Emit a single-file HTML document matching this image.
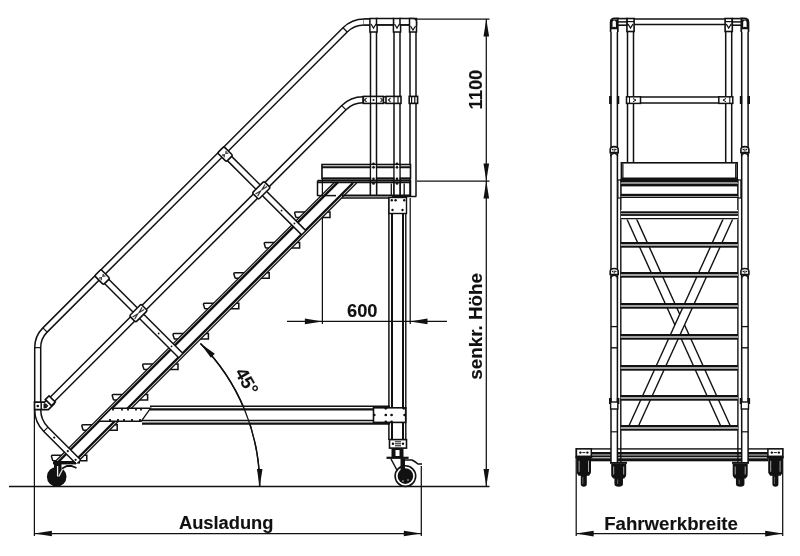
<!DOCTYPE html>
<html><head><meta charset="utf-8"><style>
html,body{margin:0;padding:0;background:#fff;}
svg{display:block;filter:grayscale(1);}
text{font-family:"Liberation Sans",sans-serif;}
</style></head><body>
<svg width="800" height="556" viewBox="0 0 800 556">
<rect width="800" height="556" fill="#fff"/>
<line x1="9.00" y1="486.50" x2="489.50" y2="486.50" stroke="#111" stroke-width="1.4" />
<line x1="34.40" y1="410.00" x2="34.40" y2="536.00" stroke="#111" stroke-width="1.25" />
<line x1="421.30" y1="466.00" x2="421.30" y2="536.00" stroke="#111" stroke-width="1.25" />
<line x1="34.40" y1="533.50" x2="421.30" y2="533.50" stroke="#111" stroke-width="1.25" />
<path d="M34.40,533.50 L51.90,530.70 L51.90,536.30 Z" fill="#111"/>
<path d="M421.30,533.50 L403.80,536.30 L403.80,530.70 Z" fill="#111"/>
<text transform="translate(179.00,529.30) rotate(0) scale(1.0,1)" font-size="18.3" text-anchor="start" font-family="Liberation Sans, sans-serif" font-weight="bold" fill="#111" stroke="#111" stroke-width="0.12">Ausladung</text>
<line x1="486.30" y1="19.00" x2="486.30" y2="486.50" stroke="#111" stroke-width="1.25" />
<line x1="417.00" y1="19.00" x2="489.50" y2="19.00" stroke="#111" stroke-width="1.25" />
<line x1="417.00" y1="181.00" x2="489.50" y2="181.00" stroke="#111" stroke-width="1.25" />
<path d="M486.30,19.00 L489.10,36.50 L483.50,36.50 Z" fill="#111"/>
<path d="M486.30,181.00 L483.50,163.50 L489.10,163.50 Z" fill="#111"/>
<path d="M486.30,181.00 L489.10,198.50 L483.50,198.50 Z" fill="#111"/>
<path d="M486.30,486.50 L483.50,469.00 L489.10,469.00 Z" fill="#111"/>
<text transform="translate(481.50,109.40) rotate(-90) scale(1.0,1)" font-size="18.3" text-anchor="start" font-family="Liberation Sans, sans-serif" font-weight="bold" fill="#111" stroke="#111" stroke-width="0.12">1100</text>
<text transform="translate(481.50,379.80) rotate(-90) scale(1.03,1)" font-size="18.3" text-anchor="start" font-family="Liberation Sans, sans-serif" font-weight="bold" fill="#111" stroke="#111" stroke-width="0.12">senkr. Höhe</text>
<line x1="287.00" y1="321.40" x2="447.00" y2="321.40" stroke="#111" stroke-width="1.25" />
<line x1="322.40" y1="164.00" x2="322.40" y2="324.00" stroke="#111" stroke-width="1.25" />
<line x1="410.20" y1="198.00" x2="410.20" y2="324.00" stroke="#111" stroke-width="1.25" />
<path d="M322.40,321.40 L304.90,324.20 L304.90,318.60 Z" fill="#111"/>
<path d="M410.00,321.40 L427.50,318.60 L427.50,324.20 Z" fill="#111"/>
<text transform="translate(347.00,317.20) rotate(0) scale(1.0,1)" font-size="18.3" text-anchor="start" font-family="Liberation Sans, sans-serif" font-weight="bold" fill="#111" stroke="#111" stroke-width="0.12">600</text>
<path d="M200.48,343.42 A202.2,202.2 0 0 1 259.70,486.40" stroke="#111" stroke-width="1.4" fill="none" />
<path d="M259.70,486.40 L256.90,468.90 L262.50,468.90 Z" fill="#111"/>
<path d="M200.48,343.42 L214.83,353.82 L210.87,357.78 Z" fill="#111"/>
<text transform="translate(234.50,372.50) rotate(60) scale(1.0,1)" font-size="18.3" text-anchor="start" font-family="Liberation Sans, sans-serif" font-weight="bold" fill="#111" stroke="#111" stroke-width="0.12">45°</text>
<path d="M305.50,212.00 L295.60,212.00 Q294.60,212.00 294.60,213.00 L295.80,217.00 Q296.00,217.50 296.80,217.50 L300.00,217.50 Z" fill="#fff" stroke="#111" stroke-width="1.5"/>
<path d="M275.10,242.40 L265.20,242.40 Q264.20,242.40 264.20,243.40 L265.40,247.40 Q265.60,247.90 266.40,247.90 L269.60,247.90 Z" fill="#fff" stroke="#111" stroke-width="1.5"/>
<path d="M244.70,272.80 L234.80,272.80 Q233.80,272.80 233.80,273.80 L235.00,277.80 Q235.20,278.30 236.00,278.30 L239.20,278.30 Z" fill="#fff" stroke="#111" stroke-width="1.5"/>
<path d="M214.30,303.20 L204.40,303.20 Q203.40,303.20 203.40,304.20 L204.60,308.20 Q204.80,308.70 205.60,308.70 L208.80,308.70 Z" fill="#fff" stroke="#111" stroke-width="1.5"/>
<path d="M183.90,333.60 L174.00,333.60 Q173.00,333.60 173.00,334.60 L174.20,338.60 Q174.40,339.10 175.20,339.10 L178.40,339.10 Z" fill="#fff" stroke="#111" stroke-width="1.5"/>
<path d="M153.50,364.00 L143.60,364.00 Q142.60,364.00 142.60,365.00 L143.80,369.00 Q144.00,369.50 144.80,369.50 L148.00,369.50 Z" fill="#fff" stroke="#111" stroke-width="1.5"/>
<path d="M123.10,394.40 L113.20,394.40 Q112.20,394.40 112.20,395.40 L113.40,399.40 Q113.60,399.90 114.40,399.90 L117.60,399.90 Z" fill="#fff" stroke="#111" stroke-width="1.5"/>
<path d="M92.70,424.80 L82.80,424.80 Q81.80,424.80 81.80,425.80 L83.00,429.80 Q83.20,430.30 84.00,430.30 L87.20,430.30 Z" fill="#fff" stroke="#111" stroke-width="1.5"/>
<path d="M62.30,455.20 L52.40,455.20 Q51.40,455.20 51.40,456.20 L52.60,460.20 Q52.80,460.70 53.60,460.70 L56.80,460.70 Z" fill="#fff" stroke="#111" stroke-width="1.5"/>
<path d="M327.00,212.00 L330.00,212.00 L330.00,217.50 L321.50,217.50 Z" stroke="#111" stroke-width="1.5" fill="#fff" />
<path d="M296.60,242.40 L299.60,242.40 L299.60,247.90 L291.10,247.90 Z" stroke="#111" stroke-width="1.5" fill="#fff" />
<path d="M266.20,272.80 L269.20,272.80 L269.20,278.30 L260.70,278.30 Z" stroke="#111" stroke-width="1.5" fill="#fff" />
<path d="M235.80,303.20 L238.80,303.20 L238.80,308.70 L230.30,308.70 Z" stroke="#111" stroke-width="1.5" fill="#fff" />
<path d="M205.40,333.60 L208.40,333.60 L208.40,339.10 L199.90,339.10 Z" stroke="#111" stroke-width="1.5" fill="#fff" />
<path d="M175.00,364.00 L178.00,364.00 L178.00,369.50 L169.50,369.50 Z" stroke="#111" stroke-width="1.5" fill="#fff" />
<path d="M144.60,394.40 L147.60,394.40 L147.60,399.90 L139.10,399.90 Z" stroke="#111" stroke-width="1.5" fill="#fff" />
<path d="M114.20,424.80 L117.20,424.80 L117.20,430.30 L108.70,430.30 Z" stroke="#111" stroke-width="1.5" fill="#fff" />
<path d="M83.80,455.20 L86.80,455.20 L86.80,460.70 L78.30,460.70 Z" stroke="#111" stroke-width="1.5" fill="#fff" />
<path d="M54.80,462.00 L334.80,182.00 L356.60,183.00 L77.60,462.00 Z" stroke="none" stroke-width="0" fill="#fff" />
<line x1="54.80" y1="462.00" x2="334.80" y2="182.00" stroke="#111" stroke-width="1.3" />
<line x1="58.20" y1="462.00" x2="338.00" y2="182.20" stroke="#111" stroke-width="2.4" />
<line x1="74.00" y1="462.00" x2="353.00" y2="183.00" stroke="#111" stroke-width="2.4" />
<line x1="77.60" y1="462.00" x2="356.60" y2="183.00" stroke="#111" stroke-width="1.3" />
<line x1="53.50" y1="462.30" x2="80.00" y2="462.30" stroke="#111" stroke-width="2.6" />
<path d="M416,22.0 L364.18,22.00 A27,27 0 0 0 345.09,29.91 L45.02,329.98 A25,25 0 0 0 37.70,347.66 L37.7,404" stroke="#111" stroke-width="7.50" fill="none" stroke-linecap="butt"/>
<path d="M416,22.0 L364.18,22.00 A27,27 0 0 0 345.09,29.91 L45.02,329.98 A25,25 0 0 0 37.70,347.66 L37.7,404" stroke="#fff" stroke-width="4.50" fill="none" stroke-linecap="butt"/>
<path d="M401,99.8 L362.98,99.80 A27,27 0 0 0 343.89,107.71 L50.5,401.10" stroke="#111" stroke-width="7.50" fill="none" stroke-linecap="butt"/>
<path d="M401,99.8 L362.98,99.80 A27,27 0 0 0 343.89,107.71 L50.5,401.10" stroke="#fff" stroke-width="4.50" fill="none" stroke-linecap="butt"/>
<path d="M37.7,409.5 A28,28 0 0 0 45.90,429.30 L78.20,461.60" stroke="#111" stroke-width="7.50" fill="none" stroke-linecap="butt"/>
<path d="M37.7,409.5 A28,28 0 0 0 45.90,429.30 L78.20,461.60" stroke="#fff" stroke-width="4.50" fill="none" stroke-linecap="butt"/>
<line x1="364.18" y1="25.00" x2="364.18" y2="19.00" stroke="#111" stroke-width="1.2" />
<line x1="347.21" y1="32.03" x2="342.97" y2="27.79" stroke="#111" stroke-width="1.2" />
<line x1="47.14" y1="332.10" x2="42.90" y2="327.86" stroke="#111" stroke-width="1.2" />
<line x1="34.70" y1="347.66" x2="40.70" y2="347.66" stroke="#111" stroke-width="1.2" />
<line x1="362.98" y1="102.80" x2="362.98" y2="96.80" stroke="#111" stroke-width="1.2" />
<line x1="346.01" y1="109.83" x2="341.77" y2="105.59" stroke="#111" stroke-width="1.2" />
<line x1="43.78" y1="431.42" x2="48.02" y2="427.18" stroke="#111" stroke-width="1.2" />
<circle cx="54.20" cy="437.60" r="1.1" fill="#111"/>
<circle cx="67.80" cy="451.20" r="1.1" fill="#111"/>
<circle cx="75.60" cy="459.80" r="1.1" fill="#111"/>
<path d="M223.00,152.00 L303.25,232.25" stroke="#111" stroke-width="7.50" fill="none" stroke-linecap="butt"/>
<path d="M223.00,152.00 L303.25,232.25" stroke="#fff" stroke-width="4.50" fill="none" stroke-linecap="butt"/>
<circle cx="281.58" cy="210.58" r="0.9" fill="#111"/>
<circle cx="294.42" cy="223.42" r="0.9" fill="#111"/>
<g transform="rotate(-45 225.12 154.12)">
<rect x="220.62" y="147.87" width="9.0" height="12.5" rx="1.5" fill="#fff" stroke="#111" stroke-width="1.6"/>
<path d="M222.12,152.62 L224.12,154.12 L222.12,155.62 M228.12,152.62 L226.12,154.12 L228.12,155.62" stroke="#333" stroke-width="1.2" fill="none"/>
</g>
<g transform="rotate(-45 261.30 190.30)">
<rect x="253.05" y="185.80" width="16.5" height="9.0" rx="1.5" fill="#fff" stroke="#111" stroke-width="1.6"/>
<path d="M254.55,188.80 L260.30,190.30 L254.55,191.80 M268.05,188.80 L262.30,190.30 L268.05,191.80" stroke="#333" stroke-width="1.2" fill="none"/>
</g>
<path d="M100.10,274.90 L180.35,355.15" stroke="#111" stroke-width="7.50" fill="none" stroke-linecap="butt"/>
<path d="M100.10,274.90 L180.35,355.15" stroke="#fff" stroke-width="4.50" fill="none" stroke-linecap="butt"/>
<circle cx="158.68" cy="333.48" r="0.9" fill="#111"/>
<circle cx="171.52" cy="346.32" r="0.9" fill="#111"/>
<g transform="rotate(-45 102.22 277.02)">
<rect x="97.72" y="270.77" width="9.0" height="12.5" rx="1.5" fill="#fff" stroke="#111" stroke-width="1.6"/>
<path d="M99.22,275.52 L101.22,277.02 L99.22,278.52 M105.22,275.52 L103.22,277.02 L105.22,278.52" stroke="#333" stroke-width="1.2" fill="none"/>
</g>
<g transform="rotate(-45 138.40 313.20)">
<rect x="130.15" y="308.70" width="16.5" height="9.0" rx="1.5" fill="#fff" stroke="#111" stroke-width="1.6"/>
<path d="M131.65,311.70 L137.40,313.20 L131.65,314.70 M145.15,311.70 L139.40,313.20 L145.15,314.70" stroke="#333" stroke-width="1.2" fill="none"/>
</g>
<path d="M34.50,402.10 L44.50,402.10 L48.50,398.10 L54.20,403.80 L48.40,409.60 L34.50,409.60 Z" stroke="#111" stroke-width="1.7" fill="#fff" />
<line x1="41.20" y1="402.10" x2="41.20" y2="409.60" stroke="#111" stroke-width="1.5" />
<circle cx="37.80" cy="406.00" r="1.3" fill="#111"/>
<path d="M44,403.8 L44,408 Q48,407.5 47.6,405.4 Q47,403.8 44,403.8" stroke="#111" stroke-width="1.0" fill="#222" />
<rect x="47.70" y="396.40" width="5.2" height="8.8" fill="#fff" stroke="#111" stroke-width="1.7" transform="rotate(-45 50.3 400.8)"/>
<path d="M373.5,19.5 L373.5,196" stroke="#111" stroke-width="7.50" fill="none" stroke-linecap="butt"/>
<path d="M373.5,19.5 L373.5,196" stroke="#fff" stroke-width="4.50" fill="none" stroke-linecap="butt"/>
<path d="M397.0,19.5 L397.0,196" stroke="#111" stroke-width="7.50" fill="none" stroke-linecap="butt"/>
<path d="M397.0,19.5 L397.0,196" stroke="#fff" stroke-width="4.50" fill="none" stroke-linecap="butt"/>
<path d="M413.0,19.5 L413.0,196" stroke="#111" stroke-width="7.50" fill="none" stroke-linecap="butt"/>
<path d="M413.0,19.5 L413.0,196" stroke="#fff" stroke-width="4.50" fill="none" stroke-linecap="butt"/>
<path d="M364,22 L372,22" stroke="#111" stroke-width="7.50" fill="none" stroke-linecap="butt"/>
<path d="M364,22 L372,22" stroke="#fff" stroke-width="4.50" fill="none" stroke-linecap="butt"/>
<rect x="369.90" y="18.50" width="7.20" height="13.50" rx="0" fill="#fff" stroke="#111" stroke-width="1.5"/>
<path d="M371.00,24.00 l2.5,4 l2.5,-4" stroke="#111" stroke-width="1.2" fill="none" />
<rect x="393.40" y="18.50" width="7.20" height="13.50" rx="0" fill="#fff" stroke="#111" stroke-width="1.5"/>
<path d="M394.50,24.00 l2.5,4 l2.5,-4" stroke="#111" stroke-width="1.2" fill="none" />
<rect x="376.50" y="18.50" width="17.00" height="6.30" rx="0" fill="#fff" stroke="#111" stroke-width="1.5"/>
<rect x="400.00" y="18.50" width="16.50" height="6.30" rx="0" fill="#fff" stroke="#111" stroke-width="1.5"/>
<path d="M409.5,18.5 L413,18.5 Q416.5,18.5 416.5,22 L416.5,32 L409.5,32 Z" fill="#fff" stroke="#111" stroke-width="1.5"/>
<path d="M410.5,26 l2.5,4 l2.5,-4" stroke="#111" stroke-width="1.2" fill="none" />
<rect x="363.30" y="96.40" width="20.10" height="7.00" rx="0" fill="#fff" stroke="#111" stroke-width="1.6"/>
<path d="M366.5,98.2 l-2,1.8 l2,1.8 M380.5,98.2 l2,1.8 l-2,1.8" stroke="#111" stroke-width="1.1" fill="none" />
<line x1="370.50" y1="96.40" x2="370.50" y2="103.40" stroke="#111" stroke-width="1.2" />
<line x1="376.50" y1="96.40" x2="376.50" y2="103.40" stroke="#111" stroke-width="1.2" />
<circle cx="373.50" cy="99.90" r="1.0" fill="#111"/>
<rect x="386.00" y="96.40" width="15.00" height="7.00" rx="0" fill="#fff" stroke="#111" stroke-width="1.6"/>
<path d="M390.5,98.2 l-2,1.8 l2,1.8" stroke="#111" stroke-width="1.1" fill="none" />
<line x1="394.00" y1="96.40" x2="394.00" y2="103.40" stroke="#111" stroke-width="1.2" />
<line x1="398.00" y1="96.40" x2="398.00" y2="103.40" stroke="#111" stroke-width="1.2" />
<rect x="409.20" y="96.40" width="8.40" height="7.00" rx="0" fill="#fff" stroke="#111" stroke-width="1.6"/>
<line x1="411.60" y1="96.40" x2="411.60" y2="103.40" stroke="#111" stroke-width="1.2" />
<line x1="414.80" y1="96.40" x2="414.80" y2="103.40" stroke="#111" stroke-width="1.2" />
<rect x="322.00" y="164.50" width="88.50" height="14.00" rx="0" fill="#fff" stroke="#111" stroke-width="1.6"/>
<line x1="322.00" y1="167.30" x2="410.50" y2="167.30" stroke="#111" stroke-width="2.0" />
<line x1="322.00" y1="178.50" x2="410.50" y2="178.50" stroke="#111" stroke-width="2.2" />
<line x1="370.50" y1="164.50" x2="370.50" y2="196.00" stroke="#111" stroke-width="1.5" />
<line x1="376.50" y1="164.50" x2="376.50" y2="196.00" stroke="#111" stroke-width="1.5" />
<rect x="371.30" y="165.2" width="4.4" height="30" fill="#fff"/>
<circle cx="373.50" cy="163.90" r="1.35" fill="#111"/>
<circle cx="373.50" cy="167.30" r="1.35" fill="#111"/>
<circle cx="373.50" cy="178.90" r="1.35" fill="#111"/>
<circle cx="373.50" cy="183.40" r="1.35" fill="#111"/>
<line x1="394.00" y1="164.50" x2="394.00" y2="196.00" stroke="#111" stroke-width="1.5" />
<line x1="400.00" y1="164.50" x2="400.00" y2="196.00" stroke="#111" stroke-width="1.5" />
<rect x="394.80" y="165.2" width="4.4" height="30" fill="#fff"/>
<circle cx="397.00" cy="163.90" r="1.35" fill="#111"/>
<circle cx="397.00" cy="167.30" r="1.35" fill="#111"/>
<circle cx="397.00" cy="178.90" r="1.35" fill="#111"/>
<circle cx="397.00" cy="183.40" r="1.35" fill="#111"/>
<rect x="317.50" y="180.70" width="93.00" height="15.20" rx="0" fill="none" stroke="#111" stroke-width="0"/>
<line x1="317.50" y1="180.70" x2="410.50" y2="180.70" stroke="#111" stroke-width="2.0" />
<line x1="317.50" y1="182.60" x2="410.50" y2="182.60" stroke="#111" stroke-width="1.2" />
<line x1="317.50" y1="180.70" x2="317.50" y2="196.00" stroke="#111" stroke-width="1.5" />
<line x1="317.50" y1="195.60" x2="336.00" y2="195.60" stroke="#111" stroke-width="1.5" />
<line x1="342.00" y1="195.60" x2="410.50" y2="195.60" stroke="#111" stroke-width="2.0" />
<line x1="342.00" y1="198.00" x2="390.00" y2="198.00" stroke="#111" stroke-width="1.5" />
<line x1="410.50" y1="180.00" x2="410.50" y2="197.00" stroke="#111" stroke-width="1.5" />
<line x1="392.00" y1="196.50" x2="416.50" y2="196.50" stroke="#111" stroke-width="1.5" />
<line x1="391.30" y1="183.50" x2="391.30" y2="196.00" stroke="#111" stroke-width="1.3" />
<line x1="404.20" y1="183.50" x2="404.20" y2="196.00" stroke="#111" stroke-width="1.3" />
<line x1="388.90" y1="197.00" x2="388.90" y2="440.00" stroke="#111" stroke-width="1.5" />
<line x1="392.00" y1="197.00" x2="392.00" y2="440.00" stroke="#111" stroke-width="2.0" />
<line x1="403.00" y1="197.00" x2="403.00" y2="440.00" stroke="#111" stroke-width="2.0" />
<line x1="405.80" y1="197.00" x2="405.80" y2="440.00" stroke="#111" stroke-width="1.4" />
<rect x="389.00" y="197.50" width="17.50" height="16.00" rx="0" fill="#fff" stroke="#111" stroke-width="1.4"/>
<circle cx="391.80" cy="200.20" r="1.2" fill="#111"/>
<circle cx="395.60" cy="200.20" r="1.2" fill="#111"/>
<circle cx="404.20" cy="200.20" r="1.2" fill="#111"/>
<circle cx="392.50" cy="210.00" r="1.2" fill="#111"/>
<circle cx="402.50" cy="210.00" r="1.2" fill="#111"/>
<rect x="150" y="406.5" width="240" height="16.5" fill="#fff"/>
<line x1="150.00" y1="406.30" x2="390.00" y2="406.30" stroke="#111" stroke-width="1.5" />
<line x1="150.00" y1="409.40" x2="390.00" y2="409.40" stroke="#111" stroke-width="2.2" />
<line x1="142.00" y1="420.60" x2="390.00" y2="420.60" stroke="#111" stroke-width="1.5" />
<line x1="142.00" y1="423.70" x2="390.00" y2="423.70" stroke="#111" stroke-width="2.2" />
<path d="M111.50,408.30 L150.50,408.30 L141.20,421.30 L98.50,421.30 Z" stroke="#111" stroke-width="1.4" fill="#fff" />
<line x1="113.00" y1="408.30" x2="113.00" y2="410.60" stroke="#111" stroke-width="1.8" />
<line x1="122.00" y1="408.30" x2="122.00" y2="410.60" stroke="#111" stroke-width="1.8" />
<line x1="128.00" y1="408.30" x2="128.00" y2="410.60" stroke="#111" stroke-width="1.8" />
<line x1="136.00" y1="408.30" x2="136.00" y2="410.60" stroke="#111" stroke-width="1.8" />
<line x1="141.00" y1="408.30" x2="141.00" y2="410.60" stroke="#111" stroke-width="1.8" />
<line x1="110.00" y1="419.00" x2="110.00" y2="421.30" stroke="#111" stroke-width="1.8" />
<line x1="118.00" y1="419.00" x2="118.00" y2="421.30" stroke="#111" stroke-width="1.8" />
<line x1="124.00" y1="419.00" x2="124.00" y2="421.30" stroke="#111" stroke-width="1.8" />
<line x1="132.00" y1="419.00" x2="132.00" y2="421.30" stroke="#111" stroke-width="1.8" />
<line x1="140.00" y1="419.00" x2="140.00" y2="421.30" stroke="#111" stroke-width="1.8" />
<rect x="373.50" y="407.80" width="32.20" height="14.60" rx="0" fill="#fff" stroke="#111" stroke-width="1.6"/>
<circle cx="374.30" cy="415.00" r="1.35" fill="#111"/>
<circle cx="385.80" cy="415.00" r="1.35" fill="#111"/>
<circle cx="391.60" cy="415.00" r="1.35" fill="#111"/>
<circle cx="404.60" cy="415.00" r="1.35" fill="#111"/>
<circle cx="385.80" cy="408.30" r="1.35" fill="#111"/>
<circle cx="403.80" cy="408.30" r="1.35" fill="#111"/>
<circle cx="385.80" cy="421.90" r="1.35" fill="#111"/>
<circle cx="391.60" cy="421.90" r="1.35" fill="#111"/>
<rect x="389.50" y="439.60" width="17.00" height="8.50" rx="0" fill="#fff" stroke="#111" stroke-width="1.6"/>
<circle cx="393.00" cy="443.80" r="1.2" fill="#111"/>
<circle cx="403.00" cy="443.80" r="1.2" fill="#111"/>
<line x1="395.00" y1="443.80" x2="401.00" y2="443.80" stroke="#111" stroke-width="1.0" />
<line x1="395.00" y1="441.80" x2="401.00" y2="441.80" stroke="#111" stroke-width="1.0" />
<line x1="395.00" y1="445.80" x2="401.00" y2="445.80" stroke="#111" stroke-width="1.0" />
<rect x="391.50" y="448.00" width="12.00" height="10.00" rx="0" fill="#111"/>
<rect x="395.50" y="450.00" width="4.00" height="6.00" rx="0" fill="#fff"/>
<line x1="386.50" y1="457.80" x2="408.60" y2="457.80" stroke="#111" stroke-width="2.2" />
<path d="M391,459 L398,472" stroke="#111" stroke-width="1.5" fill="none" />
<path d="M403,459 L404,468" stroke="#111" stroke-width="1.5" fill="none" />
<path d="M404,460 L412,460 Q416,462 418,464 L422,464" stroke="#111" stroke-width="1.6" fill="none" />
<circle cx="405.4" cy="476.1" r="10.3" fill="#fff" stroke="#111" stroke-width="1.6"/>
<circle cx="405.4" cy="476.1" r="7.8" fill="#111"/>
<rect x="400.50" y="458.50" width="4.50" height="12.00" rx="0" fill="#111"/>
<circle cx="403" cy="481" r="1.1" fill="#777"/>
<circle cx="408" cy="480" r="1.1" fill="#777"/>
<circle cx="56.7" cy="476.8" r="9.8" fill="#111"/>
<rect x="54.00" y="463.50" width="7.50" height="4.50" rx="0" fill="#111"/>
<line x1="57.60" y1="466.00" x2="57.60" y2="476.50" stroke="#eee" stroke-width="1.3" />
<line x1="63.50" y1="467.50" x2="58.80" y2="476.50" stroke="#eee" stroke-width="1.2" />
<path d="M62,468.5 L67,466 L71.5,466 L76.5,468" stroke="#111" stroke-width="1.8" fill="none" />
<line x1="53.00" y1="463.20" x2="76.00" y2="463.20" stroke="#111" stroke-width="2.4" />
<path d="M200.48,343.42 A202.2,202.2 0 0 1 259.70,486.40" stroke="#111" stroke-width="1.4" fill="none" />
<line x1="576.20" y1="448.00" x2="576.20" y2="536.00" stroke="#111" stroke-width="1.25" />
<line x1="782.70" y1="448.00" x2="782.70" y2="536.00" stroke="#111" stroke-width="1.25" />
<line x1="576.20" y1="533.60" x2="782.70" y2="533.60" stroke="#111" stroke-width="1.25" />
<path d="M576.20,533.60 L593.70,530.80 L593.70,536.40 Z" fill="#111"/>
<path d="M782.70,533.60 L765.20,536.40 L765.20,530.80 Z" fill="#111"/>
<text transform="translate(604.20,529.70) rotate(0) scale(1.02,1)" font-size="18.3" text-anchor="start" font-family="Liberation Sans, sans-serif" font-weight="bold" fill="#111" stroke="#111" stroke-width="0.12">Fahrwerkbreite</text>
<rect x="576.50" y="448.20" width="206.00" height="1.40" rx="0" fill="#111"/>
<rect x="591.00" y="452.00" width="177.00" height="2.00" rx="0" fill="#111"/>
<rect x="591.00" y="454.00" width="177.00" height="1.50" rx="0" fill="#777"/>
<rect x="591.00" y="455.50" width="177.00" height="1.80" rx="0" fill="#111"/>
<rect x="591.00" y="457.30" width="177.00" height="1.00" rx="0" fill="#aaa"/>
<rect x="591.00" y="458.30" width="177.00" height="3.00" rx="0" fill="#111"/>
<rect x="576.40" y="448.90" width="14.90" height="7.40" rx="0" fill="#fff" stroke="#111" stroke-width="1.5"/>
<rect x="575.40" y="456.50" width="16.90" height="1.80" rx="0" fill="#111"/>
<circle cx="580.35" cy="452.60" r="1.2" fill="#111"/>
<circle cx="587.35" cy="452.60" r="1.2" fill="#111"/>
<line x1="582.35" y1="452.60" x2="585.35" y2="452.60" stroke="#111" stroke-width="1.0" />
<rect x="767.90" y="448.90" width="14.90" height="7.40" rx="0" fill="#fff" stroke="#111" stroke-width="1.5"/>
<rect x="766.90" y="456.50" width="16.90" height="1.80" rx="0" fill="#111"/>
<circle cx="771.85" cy="452.60" r="1.2" fill="#111"/>
<circle cx="778.85" cy="452.60" r="1.2" fill="#111"/>
<line x1="773.85" y1="452.60" x2="776.85" y2="452.60" stroke="#111" stroke-width="1.0" />
<path d="M576.60,457.80 L591.00,457.80 L591.00,469.80 Q591.80,472.80 589.00,475.80 L586.80,475.80 L586.80,484 Q586.80,486.8 583.80,486.8 Q580.80,486.8 580.80,484 L580.80,475.80 L578.60,475.80 Q575.80,472.80 576.60,469.80 Z" fill="#111"/>
<path d="M579.10,460.80 L579.10,471.80 M588.50,460.80 L588.50,471.80" stroke="#fff" stroke-width="0.9" opacity="0.7"/>
<path d="M582.80,476.80 L582.80,484.00" stroke="#fff" stroke-width="0.7" opacity="0.5"/>
<path d="M768.20,457.80 L782.60,457.80 L782.60,469.80 Q783.40,472.80 780.60,475.80 L778.40,475.80 L778.40,484 Q778.40,486.8 775.40,486.8 Q772.40,486.8 772.40,484 L772.40,475.80 L770.20,475.80 Q767.40,472.80 768.20,469.80 Z" fill="#111"/>
<path d="M770.70,460.80 L770.70,471.80 M780.10,460.80 L780.10,471.80" stroke="#fff" stroke-width="0.9" opacity="0.7"/>
<path d="M774.40,476.80 L774.40,484.00" stroke="#fff" stroke-width="0.7" opacity="0.5"/>
<path d="M611.20,463.50 L626.20,463.50 L626.20,472.50 Q627.00,475.50 624.20,478.50 L622.95,478.50 L622.95,484 Q622.95,486.8 618.70,486.8 Q614.45,486.8 614.45,484 L614.45,478.50 L613.20,478.50 Q610.40,475.50 611.20,472.50 Z" fill="#111"/>
<path d="M613.70,466.50 L613.70,474.50 M623.70,466.50 L623.70,474.50" stroke="#fff" stroke-width="0.9" opacity="0.7"/>
<path d="M617.70,479.50 L617.70,484.00" stroke="#fff" stroke-width="0.7" opacity="0.5"/>
<path d="M732.70,463.50 L747.70,463.50 L747.70,472.50 Q748.50,475.50 745.70,478.50 L744.45,478.50 L744.45,484 Q744.45,486.8 740.20,486.8 Q735.95,486.8 735.95,484 L735.95,478.50 L734.70,478.50 Q731.90,475.50 732.70,472.50 Z" fill="#111"/>
<path d="M735.20,466.50 L735.20,474.50 M745.20,466.50 L745.20,474.50" stroke="#fff" stroke-width="0.9" opacity="0.7"/>
<path d="M739.20,479.50 L739.20,484.00" stroke="#fff" stroke-width="0.7" opacity="0.5"/>
<rect x="610.00" y="461.80" width="17.00" height="2.00" rx="0" fill="#111"/>
<rect x="732.00" y="461.80" width="17.00" height="2.00" rx="0" fill="#111"/>
<path d="M614.2,25 L614.2,462" stroke="#111" stroke-width="7.90" fill="none" stroke-linecap="butt"/>
<path d="M614.2,25 L614.2,462" stroke="#fff" stroke-width="4.90" fill="none" stroke-linecap="butt"/>
<path d="M744.9,25 L744.9,462" stroke="#111" stroke-width="7.90" fill="none" stroke-linecap="butt"/>
<path d="M744.9,25 L744.9,462" stroke="#fff" stroke-width="4.90" fill="none" stroke-linecap="butt"/>
<path d="M610.6,32 L610.6,22.5 Q610.6,18.3 614.8,18.3 L617.8,18.3 L617.8,32" fill="#fff" stroke="#111" stroke-width="1.7"/>
<path d="M748.5,32 L748.5,22.5 Q748.5,18.3 744.3,18.3 L741.3,18.3 L741.3,32" fill="#fff" stroke="#111" stroke-width="1.7"/>
<path d="M610.60,29.20 L610.60,19.5 L617.80,19.5 L617.80,29.2 Z M612.50,27.3 L612.50,22.5 Q612.50,20.6 614.20,20.6 Q615.90,20.6 615.90,22.5 L615.90,27.3 Q614.20,26.4 612.50,27.3 Z" fill="#111" fill-rule="evenodd"/>
<path d="M741.30,29.20 L741.30,19.5 L748.50,19.5 L748.50,29.2 Z M743.20,27.3 L743.20,22.5 Q743.20,20.6 744.90,20.6 Q746.60,20.6 746.60,22.5 L746.60,27.3 Q744.90,26.4 743.20,27.3 Z" fill="#111" fill-rule="evenodd"/>
<path d="M610.20,152.60 L610.20,149.60 Q610.20,146.60 614.20,146.60 Q618.20,146.60 618.20,149.60 L618.20,152.60 Z" fill="#fff" stroke="#111" stroke-width="1.6"/>
<path d="M610.90,156.60 L610.90,155.10 Q614.20,151.60 617.50,155.10 L617.50,156.60" fill="none" stroke="#111" stroke-width="1.4"/>
<circle cx="612.60" cy="149.60" r="0.8" fill="#111"/>
<circle cx="615.80" cy="149.60" r="0.8" fill="#111"/>
<line x1="614.20" y1="148.60" x2="614.20" y2="151.60" stroke="#111" stroke-width="1.0" />
<path d="M610.20,274.50 L610.20,271.50 Q610.20,268.50 614.20,268.50 Q618.20,268.50 618.20,271.50 L618.20,274.50 Z" fill="#fff" stroke="#111" stroke-width="1.6"/>
<path d="M610.90,278.50 L610.90,277.00 Q614.20,273.50 617.50,277.00 L617.50,278.50" fill="none" stroke="#111" stroke-width="1.4"/>
<circle cx="612.60" cy="271.50" r="0.8" fill="#111"/>
<circle cx="615.80" cy="271.50" r="0.8" fill="#111"/>
<line x1="614.20" y1="270.50" x2="614.20" y2="273.50" stroke="#111" stroke-width="1.0" />
<line x1="610.30" y1="96.00" x2="610.30" y2="104.00" stroke="#111" stroke-width="2.4" />
<line x1="618.10" y1="96.00" x2="618.10" y2="104.00" stroke="#111" stroke-width="2.4" />
<line x1="610.30" y1="398.00" x2="610.30" y2="404.00" stroke="#111" stroke-width="2.6" />
<line x1="618.10" y1="398.00" x2="618.10" y2="404.00" stroke="#111" stroke-width="2.6" />
<rect x="610.60" y="402.00" width="7.20" height="7.00" rx="0" fill="#fff" stroke="#111" stroke-width="1.4"/>
<line x1="611.00" y1="326.60" x2="617.40" y2="326.60" stroke="#111" stroke-width="1.3" />
<line x1="611.00" y1="347.80" x2="617.40" y2="347.80" stroke="#111" stroke-width="1.4" />
<line x1="611.00" y1="431.80" x2="617.40" y2="431.80" stroke="#111" stroke-width="1.2" />
<path d="M740.90,152.60 L740.90,149.60 Q740.90,146.60 744.90,146.60 Q748.90,146.60 748.90,149.60 L748.90,152.60 Z" fill="#fff" stroke="#111" stroke-width="1.6"/>
<path d="M741.60,156.60 L741.60,155.10 Q744.90,151.60 748.20,155.10 L748.20,156.60" fill="none" stroke="#111" stroke-width="1.4"/>
<circle cx="743.30" cy="149.60" r="0.8" fill="#111"/>
<circle cx="746.50" cy="149.60" r="0.8" fill="#111"/>
<line x1="744.90" y1="148.60" x2="744.90" y2="151.60" stroke="#111" stroke-width="1.0" />
<path d="M740.90,274.50 L740.90,271.50 Q740.90,268.50 744.90,268.50 Q748.90,268.50 748.90,271.50 L748.90,274.50 Z" fill="#fff" stroke="#111" stroke-width="1.6"/>
<path d="M741.60,278.50 L741.60,277.00 Q744.90,273.50 748.20,277.00 L748.20,278.50" fill="none" stroke="#111" stroke-width="1.4"/>
<circle cx="743.30" cy="271.50" r="0.8" fill="#111"/>
<circle cx="746.50" cy="271.50" r="0.8" fill="#111"/>
<line x1="744.90" y1="270.50" x2="744.90" y2="273.50" stroke="#111" stroke-width="1.0" />
<line x1="741.00" y1="96.00" x2="741.00" y2="104.00" stroke="#111" stroke-width="2.4" />
<line x1="748.80" y1="96.00" x2="748.80" y2="104.00" stroke="#111" stroke-width="2.4" />
<line x1="741.00" y1="398.00" x2="741.00" y2="404.00" stroke="#111" stroke-width="2.6" />
<line x1="748.80" y1="398.00" x2="748.80" y2="404.00" stroke="#111" stroke-width="2.6" />
<rect x="741.30" y="402.00" width="7.20" height="7.00" rx="0" fill="#fff" stroke="#111" stroke-width="1.4"/>
<line x1="741.70" y1="326.60" x2="748.10" y2="326.60" stroke="#111" stroke-width="1.3" />
<line x1="741.70" y1="347.80" x2="748.10" y2="347.80" stroke="#111" stroke-width="1.4" />
<line x1="741.70" y1="431.80" x2="748.10" y2="431.80" stroke="#111" stroke-width="1.2" />
<line x1="620.80" y1="179.00" x2="620.80" y2="462.00" stroke="#111" stroke-width="1.4" />
<line x1="737.90" y1="179.00" x2="737.90" y2="462.00" stroke="#111" stroke-width="1.4" />
<rect x="617.90" y="180.00" width="2.90" height="18.00" rx="0" fill="#fff" stroke="#111" stroke-width="1.2"/>
<rect x="738.00" y="180.00" width="2.90" height="18.00" rx="0" fill="#fff" stroke="#111" stroke-width="1.2"/>
<path d="M630.5,19 L630.5,163" stroke="#111" stroke-width="7.50" fill="none" stroke-linecap="butt"/>
<path d="M630.5,19 L630.5,163" stroke="#fff" stroke-width="4.50" fill="none" stroke-linecap="butt"/>
<path d="M728.7,19 L728.7,163" stroke="#111" stroke-width="7.50" fill="none" stroke-linecap="butt"/>
<path d="M728.7,19 L728.7,163" stroke="#fff" stroke-width="4.50" fill="none" stroke-linecap="butt"/>
<path d="M633,21.7 L726,21.7" stroke="#111" stroke-width="7.10" fill="none" stroke-linecap="butt"/>
<path d="M633,21.7 L726,21.7" stroke="#fff" stroke-width="4.10" fill="none" stroke-linecap="butt"/>
<path d="M640,100 L720,100" stroke="#111" stroke-width="7.50" fill="none" stroke-linecap="butt"/>
<path d="M640,100 L720,100" stroke="#fff" stroke-width="4.50" fill="none" stroke-linecap="butt"/>
<rect x="626.90" y="18.50" width="7.20" height="13.00" rx="0" fill="#fff" stroke="#111" stroke-width="1.6"/>
<line x1="626.90" y1="21.60" x2="634.10" y2="21.60" stroke="#111" stroke-width="1.2" />
<path d="M628.00,24 l2.5,4 l2.5,-4" stroke="#111" stroke-width="1.3" fill="none" />
<rect x="725.10" y="18.50" width="7.20" height="13.00" rx="0" fill="#fff" stroke="#111" stroke-width="1.6"/>
<line x1="725.10" y1="21.60" x2="732.30" y2="21.60" stroke="#111" stroke-width="1.2" />
<path d="M726.20,24 l2.5,4 l2.5,-4" stroke="#111" stroke-width="1.3" fill="none" />
<rect x="617.80" y="18.60" width="9.10" height="6.60" rx="0" fill="#fff" stroke="#111" stroke-width="1.6"/>
<rect x="732.30" y="18.60" width="9.00" height="6.60" rx="0" fill="#fff" stroke="#111" stroke-width="1.6"/>
<line x1="617.80" y1="21.90" x2="626.90" y2="21.90" stroke="#111" stroke-width="1.5" />
<line x1="732.30" y1="21.90" x2="741.30" y2="21.90" stroke="#111" stroke-width="1.5" />
<rect x="626.50" y="96.80" width="14.00" height="6.60" rx="0" fill="#fff" stroke="#111" stroke-width="1.5"/>
<rect x="718.80" y="96.80" width="14.00" height="6.60" rx="0" fill="#fff" stroke="#111" stroke-width="1.5"/>
<path d="M633,98.5 l3,1.6 l-3,1.6" stroke="#111" stroke-width="1.0" fill="none" />
<path d="M726,98.5 l-3,1.6 l3,1.6" stroke="#111" stroke-width="1.0" fill="none" />
<line x1="629.50" y1="97.00" x2="629.50" y2="103.00" stroke="#111" stroke-width="1.0" />
<line x1="729.80" y1="97.00" x2="729.80" y2="103.00" stroke="#111" stroke-width="1.0" />
<rect x="621.40" y="162.80" width="115.80" height="15.50" rx="0" fill="#fff" stroke="#111" stroke-width="1.6"/>
<line x1="622.90" y1="163.50" x2="622.90" y2="178.00" stroke="#111" stroke-width="1.2" />
<line x1="735.70" y1="163.50" x2="735.70" y2="178.00" stroke="#111" stroke-width="1.2" />
<path d="M630.92,217.20 L726.00,427.00" stroke="#111" stroke-width="10.20" fill="none" stroke-linecap="butt"/>
<path d="M630.92,217.20 L726.00,427.00" stroke="#fff" stroke-width="7.40" fill="none" stroke-linecap="butt"/>
<path d="M728.78,217.20 L633.20,427.00" stroke="#111" stroke-width="10.20" fill="none" stroke-linecap="butt"/>
<path d="M728.78,217.20 L633.20,427.00" stroke="#fff" stroke-width="7.40" fill="none" stroke-linecap="butt"/>
<rect x="620.80" y="210.00" width="117.20" height="9.50" rx="0" fill="#fff"/>
<rect x="620.80" y="178.80" width="117.20" height="3.60" rx="0" fill="#111"/>
<rect x="620.80" y="182.40" width="117.20" height="1.60" rx="0" fill="#8a8a8a"/>
<rect x="620.80" y="184.00" width="117.20" height="2.40" rx="0" fill="#111"/>
<rect x="620.80" y="193.80" width="117.20" height="2.40" rx="0" fill="#111"/>
<rect x="620.80" y="196.20" width="117.20" height="0.80" rx="0" fill="#8a8a8a"/>
<line x1="620.80" y1="197.50" x2="738.00" y2="197.50" stroke="#111" stroke-width="1.2" />
<rect x="620.80" y="211.30" width="117.20" height="2.00" rx="0" fill="#111"/>
<rect x="620.80" y="213.30" width="117.20" height="0.80" rx="0" fill="#8a8a8a"/>
<rect x="620.80" y="214.10" width="117.20" height="1.80" rx="0" fill="#111"/>
<line x1="620.80" y1="218.60" x2="738.00" y2="218.60" stroke="#111" stroke-width="1.2" />
<rect x="620.80" y="242.00" width="117.20" height="2.00" rx="0" fill="#111"/>
<rect x="620.80" y="244.00" width="117.20" height="2.00" rx="0" fill="#a0a0a0"/>
<rect x="620.80" y="246.00" width="117.20" height="1.70" rx="0" fill="#111"/>
<rect x="620.80" y="272.00" width="117.20" height="2.00" rx="0" fill="#111"/>
<rect x="620.80" y="274.00" width="117.20" height="2.00" rx="0" fill="#a0a0a0"/>
<rect x="620.80" y="276.00" width="117.20" height="1.70" rx="0" fill="#111"/>
<rect x="620.80" y="303.00" width="117.20" height="2.00" rx="0" fill="#111"/>
<rect x="620.80" y="305.00" width="117.20" height="2.00" rx="0" fill="#a0a0a0"/>
<rect x="620.80" y="307.00" width="117.20" height="1.70" rx="0" fill="#111"/>
<rect x="620.80" y="334.00" width="117.20" height="2.00" rx="0" fill="#111"/>
<rect x="620.80" y="336.00" width="117.20" height="2.00" rx="0" fill="#a0a0a0"/>
<rect x="620.80" y="338.00" width="117.20" height="1.70" rx="0" fill="#111"/>
<rect x="620.80" y="365.00" width="117.20" height="2.00" rx="0" fill="#111"/>
<rect x="620.80" y="367.00" width="117.20" height="2.00" rx="0" fill="#a0a0a0"/>
<rect x="620.80" y="369.00" width="117.20" height="1.70" rx="0" fill="#111"/>
<rect x="620.80" y="395.00" width="117.20" height="2.00" rx="0" fill="#111"/>
<rect x="620.80" y="397.00" width="117.20" height="2.00" rx="0" fill="#a0a0a0"/>
<rect x="620.80" y="399.00" width="117.20" height="1.70" rx="0" fill="#111"/>
<rect x="620.80" y="425.00" width="117.20" height="2.00" rx="0" fill="#111"/>
<rect x="620.80" y="427.00" width="117.20" height="2.00" rx="0" fill="#a0a0a0"/>
<rect x="620.80" y="429.00" width="117.20" height="1.70" rx="0" fill="#111"/>
</svg></body></html>
